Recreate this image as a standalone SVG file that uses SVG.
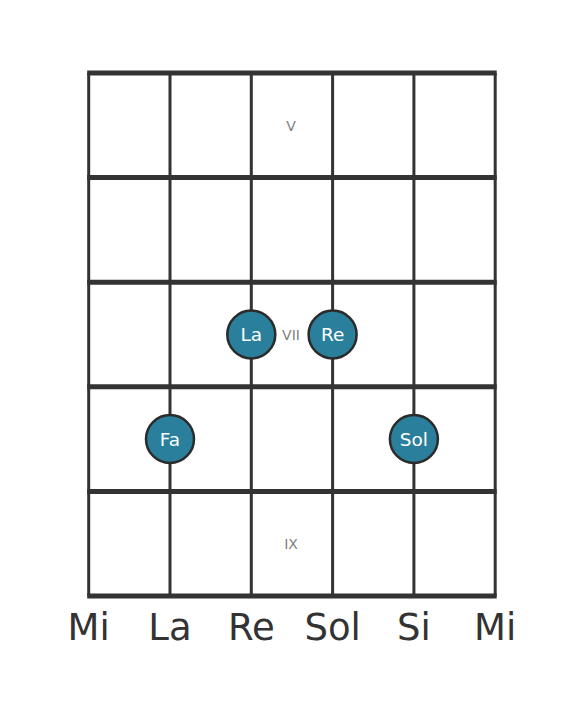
<svg xmlns="http://www.w3.org/2000/svg" width="584" height="711" viewBox="0 0 584 711">
<style>
.str{stroke:#333;stroke-width:3;fill:none}
.fret{stroke:#333;stroke-width:5;fill:none}
.note circle{fill:#2a7f9c;stroke:#2b2b2b;stroke-width:2.5}
.note text{fill:#fff;font-family:"DejaVu Sans",sans-serif;font-size:18.5px;text-anchor:middle;dominant-baseline:central}
.fl{fill:#808080;font-family:"DejaVu Sans",sans-serif;font-size:14px;text-anchor:middle;dominant-baseline:central}
.sl{fill:#333;font-family:"DejaVu Sans",sans-serif;font-size:37px;text-anchor:middle}
</style>
<rect width="584" height="711" fill="#fff"/>
<g id="connectors">
<line class="str" x1="88.7" y1="73" x2="88.7" y2="596"/>
<line class="str" x1="170" y1="73" x2="170" y2="596"/>
<line class="str" x1="251.3" y1="73" x2="251.3" y2="596"/>
<line class="str" x1="332.6" y1="73" x2="332.6" y2="596"/>
<line class="str" x1="413.9" y1="73" x2="413.9" y2="596"/>
<line class="str" x1="495.2" y1="73" x2="495.2" y2="596"/>
<line class="fret" x1="87.2" y1="73" x2="496.7" y2="73"/>
<line class="fret" x1="87.2" y1="177.6" x2="496.7" y2="177.6"/>
<line class="fret" x1="87.2" y1="282.2" x2="496.7" y2="282.2"/>
<line class="fret" x1="87.2" y1="386.8" x2="496.7" y2="386.8"/>
<line class="fret" x1="87.2" y1="491.4" x2="496.7" y2="491.4"/>
<line class="fret" x1="87.2" y1="596" x2="496.7" y2="596"/>
</g>
<g id="fret-labels">
<text class="fl" x="291" y="126">V</text>
<text class="fl" x="291" y="335">VII</text>
<text class="fl" x="291" y="544">IX</text>
</g>
<g id="note-la" class="note"><circle cx="251.3" cy="334.5" r="24"/><text x="251.3" y="334.5">La</text></g>
<g id="note-re" class="note"><circle cx="332.6" cy="334.5" r="24"/><text x="332.6" y="334.5">Re</text></g>
<g id="note-fa" class="note"><circle cx="170" cy="439" r="24"/><text x="170" y="439">Fa</text></g>
<g id="note-sol" class="note"><circle cx="413.9" cy="439" r="24"/><text x="413.9" y="439">Sol</text></g>
<g id="string-labels">
<text class="sl" x="88.7" y="640">Mi</text>
<text class="sl" x="170" y="640">La</text>
<text class="sl" x="251.3" y="640">Re</text>
<text class="sl" x="332.6" y="640">Sol</text>
<text class="sl" x="413.9" y="640">Si</text>
<text class="sl" x="495.2" y="640">Mi</text>
</g>
</svg>
